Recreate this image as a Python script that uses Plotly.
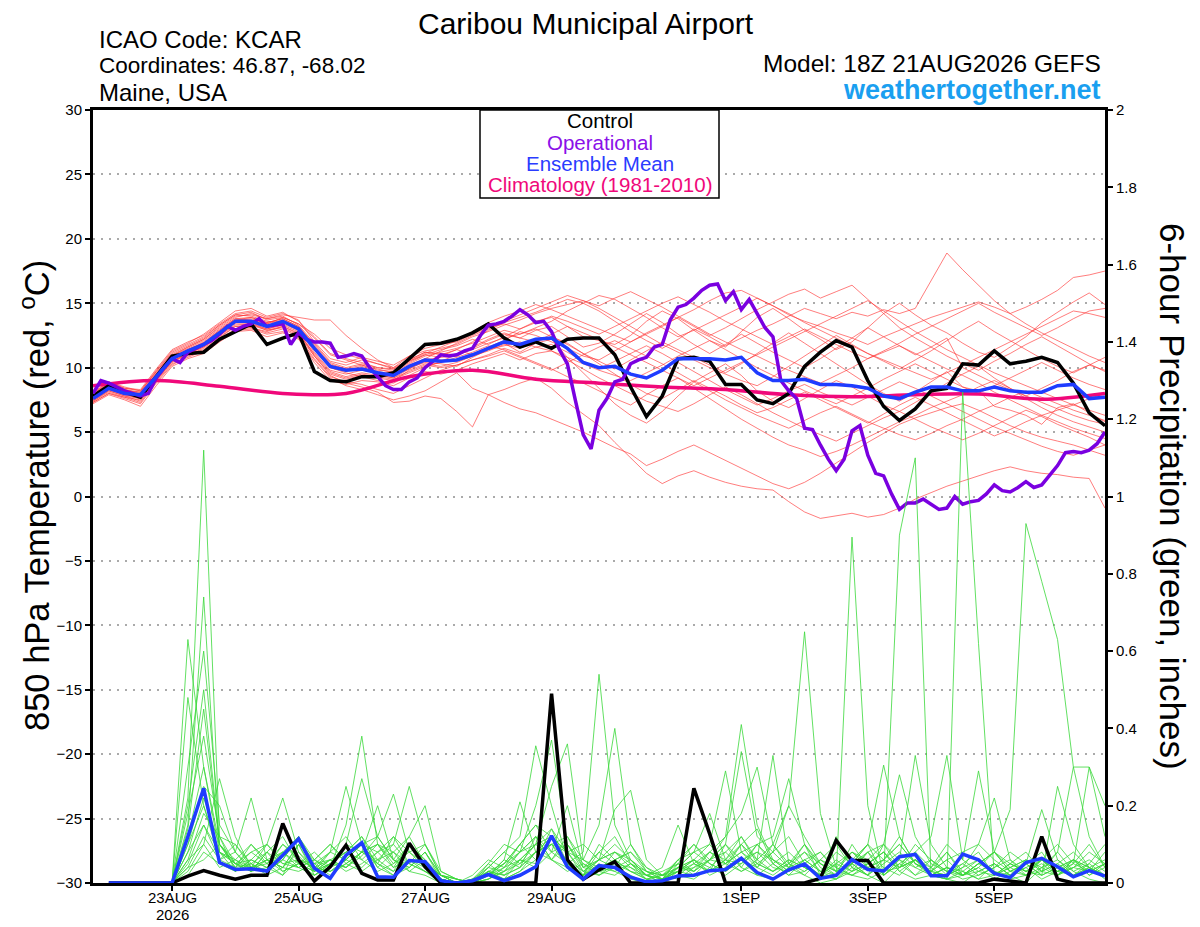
import pandas as pd
import plotly.graph_objects as go

# 6-hourly GEFS steps, 18Z 21AUG2026 + 16 days
times = pd.date_range("2026-08-21 18:00", periods=65, freq="6h")
precip_times = times[1:]
member_precip_times = times[5:]  # members drawn from 23AUG 00Z on
op_times = pd.date_range("2026-08-21 18:00", periods=129, freq="3h")
clim_times = pd.date_range("2026-08-21 18:00", periods=17, freq="24h")

control_temp = [7.8, 8.6, 8.1, 7.7, 9.3, 10.9, 11.1, 11.2, 12.2, 12.8, 13.4, 11.8, 12.3, 12.7, 9.7, 9.0,
                8.9, 9.3, 9.3, 9.6, 10.7, 11.8, 11.9, 12.2, 12.7, 13.4, 12.3, 11.6, 12.0, 11.5, 12.2, 12.3,
                12.3, 11.0, 8.5, 6.2, 7.8, 10.7, 10.8, 10.5, 8.7, 8.7, 7.5, 7.2, 8.0, 10.1, 11.2, 12.1,
                11.6, 9.0, 7.0, 5.9, 6.8, 8.2, 8.4, 10.3, 10.2, 11.3, 10.3, 10.5, 10.8, 10.4, 8.8, 6.5, 5.5]
mean_temp = [7.6, 8.4, 8.0, 7.9, 9.3, 10.7, 11.3, 11.8, 12.7, 13.6, 13.6, 13.2, 13.6, 13.0, 11.5, 10.1,
             9.8, 9.9, 9.6, 9.4, 10.1, 10.6, 10.5, 10.6, 11.0, 11.5, 12.0, 11.8, 12.2, 12.3, 11.5, 10.4,
             10.0, 10.1, 9.5, 9.2, 9.8, 10.7, 10.7, 10.7, 10.6, 10.8, 9.6, 9.0, 9.0, 9.1, 8.7, 8.7,
             8.6, 8.4, 7.8, 7.6, 8.1, 8.5, 8.5, 8.2, 8.2, 8.5, 8.2, 8.1, 8.1, 8.6, 8.7, 7.6, 7.7]
oper_temp = [8.0, 9.0, 8.8, 8.5, 8.2, 8.0, 7.8, 8.0, 9.2, 10.0, 10.7, 10.4, 11.2, 11.5, 11.8, 12.1,
             12.6, 13.2, 12.9, 13.2, 13.4, 13.8, 13.2, 13.3, 13.4, 11.8, 12.7, 12.2, 12.0, 12.0, 11.9, 10.8,
             10.9, 11.1, 10.9, 10.0, 9.3, 8.6, 8.3, 8.3, 8.9, 9.2, 10.0, 10.5, 11.0, 10.9, 11.0, 11.3,
             11.5, 12.5, 13.3, 13.4, 13.6, 14.0, 14.5, 14.1, 13.5, 13.6, 12.8, 11.4, 10.3, 7.5, 4.8, 3.7,
             6.7, 7.6, 8.9, 9.1, 10.3, 10.6, 10.8, 11.6, 11.8, 13.7, 14.7, 14.9, 15.4, 16.0, 16.4, 16.5,
             15.2, 15.9, 14.5, 15.3, 14.2, 13.1, 12.4, 9.0, 8.2, 7.6, 5.3, 5.2, 4.0, 2.9, 2.0, 2.9,
             5.1, 5.5, 3.2, 1.8, 1.6, 0.2, -1.0, -0.5, -0.5, -0.2, -0.6, -1.0, -0.9, 0.0, -0.6, -0.4,
             -0.3, 0.2, 0.9, 0.45, 0.35, 0.7, 1.15, 0.7, 0.9, 1.6, 2.4, 3.4, 3.5, 3.4, 3.6, 4.1, 5.0]
clim_temp = [8.6, 9.0, 8.55, 8.0, 8.0, 9.3, 9.8, 9.1, 8.8, 8.5, 8.3, 7.9, 7.75, 7.9, 7.95, 7.55, 8.0]

member_temps = [
    [7.9, 8.7, 8.3, 8.0, 9.6, 11.0, 11.6, 12.2, 13.1, 13.9, 14.2, 13.8, 14.0, 13.3, 11.9, 10.5, 10.2, 10.6, 10.3, 10.0, 10.9, 11.5, 11.8,
     12.0, 12.6, 13.1, 13.4, 13.0, 13.6, 13.9, 13.2, 12.4, 12.1, 11.8, 12.5, 13.6, 14.4, 13.8, 12.9, 12.1, 11.6, 12.8, 13.9, 14.6, 13.8,
     12.9, 12.2, 11.4, 12.0, 13.1, 14.2, 15.0, 14.1, 13.3, 12.7, 11.9, 11.2, 10.8, 11.6, 12.4, 13.5, 14.3, 15.1, 15.8, 14.9],
    [7.3, 8.0, 7.6, 7.2, 8.8, 10.2, 10.9, 11.3, 12.1, 12.9, 13.0, 12.6, 12.8, 12.2, 10.6, 9.2, 8.6, 8.3, 7.9, 7.5, 7.8, 8.2, 8.9,
     9.6, 8.4, 7.9, 8.3, 8.8, 9.2, 8.4, 7.3, 6.4, 5.5, 4.2, 3.0, 1.8, 1.0, 1.6, 2.0, 1.5, 1.1, 0.8, 0.6, 0.5, -0.4,
     -1.2, -1.7, -1.5, -1.3, -1.6, -1.4, -0.9, -0.2, 0.3, 0.8, 1.2, 1.6, 2.0, 2.3, 2.0, 1.8, 1.7, 1.5, 1.4, -0.9],
    [7.5, 8.2, 7.8, 7.4, 9.0, 10.5, 11.0, 11.5, 12.4, 13.2, 13.3, 12.9, 13.1, 12.5, 10.9, 9.4, 8.8, 8.5, 8.1, 7.3, 7.4, 7.8, 7.6,
     6.6, 5.4, 7.9, 7.3, 6.8, 6.5, 6.0, 5.5, 5.0, 4.4, 3.8, 3.3, 2.4, 2.9, 3.5, 4.0, 3.4, 2.8, 2.2, 1.6, 1.0, 0.6,
     1.1, 1.8, 2.6, 3.4, 4.2, 4.9, 5.6, 6.1, 6.5, 6.9, 7.2, 6.7, 6.1, 5.5, 5.0, 4.6, 4.3, 4.0, 3.6, 3.2],
    [8.0, 8.9, 8.5, 8.2, 9.8, 11.3, 11.9, 12.6, 13.5, 14.4, 14.6, 14.0, 14.3, 13.6, 12.4, 11.1, 10.7, 10.4, 10.0, 9.9, 10.6, 11.2, 11.0,
     11.4, 12.0, 12.9, 13.5, 13.9, 14.3, 14.8, 15.3, 15.0, 14.4, 13.6, 12.8, 12.1, 11.5, 12.2, 13.0, 12.4, 11.7, 12.3, 12.9, 13.4, 14.0,
     14.6, 14.2, 13.8, 14.3, 14.0, 14.5, 14.2, 14.6, 16.7, 18.9, 17.6, 16.4, 15.2, 14.2, 13.4, 12.7, 12.1, 11.5, 10.9, 10.4],
    [7.7, 8.5, 8.1, 7.8, 9.4, 10.8, 11.4, 11.9, 12.9, 13.7, 13.9, 13.5, 13.8, 13.2, 11.7, 10.3, 9.9, 10.2, 9.9, 9.6, 10.3, 10.9, 11.2,
     11.5, 11.9, 12.4, 12.9, 12.6, 13.1, 13.6, 14.4, 15.0, 15.6, 15.3, 14.6, 13.9, 13.1, 12.4, 12.9, 13.5, 14.1, 14.7, 15.4, 14.8, 14.1,
     13.6, 13.2, 12.7, 12.3, 11.8, 12.4, 12.9, 13.4, 13.9, 14.3, 14.7, 15.1, 14.7, 14.2, 14.7, 15.3, 16.0, 17.0, 17.2, 17.5],
    [7.6, 8.3, 7.9, 7.7, 9.2, 10.6, 11.2, 11.7, 12.6, 13.5, 13.5, 13.0, 13.4, 12.9, 11.2, 9.8, 9.5, 9.8, 9.6, 9.3, 10.0, 10.4, 10.3,
     10.1, 10.8, 11.4, 11.9, 11.2, 11.9, 12.2, 10.8, 9.6, 8.4, 7.2, 6.3, 5.7, 6.6, 7.8, 8.9, 9.6, 10.3, 9.4, 8.2, 7.4, 6.9,
     7.6, 8.3, 9.0, 8.5, 7.8, 7.1, 6.6, 7.3, 8.0, 8.8, 9.5, 10.1, 9.2, 8.4, 7.6, 6.9, 6.3, 5.8, 5.4, 5.0],
    [7.8, 8.6, 8.2, 8.1, 9.5, 10.9, 11.5, 12.1, 13.0, 13.8, 13.7, 13.4, 13.9, 13.4, 12.3, 11.0, 10.6, 10.2, 9.8, 9.7, 10.4, 11.0, 10.8,
     10.9, 11.5, 12.1, 12.6, 12.3, 12.9, 13.2, 12.4, 11.6, 11.9, 12.6, 13.4, 14.2, 13.5, 12.6, 11.8, 11.1, 11.8, 12.6, 11.9, 11.2, 10.6,
     10.0, 10.7, 11.5, 12.3, 13.1, 12.4, 11.7, 11.0, 11.6, 12.3, 10.0, 9.4, 8.8, 8.3, 7.8, 8.4, 9.0, 9.7, 10.2, 9.8],
    [7.2, 7.9, 7.5, 7.0, 8.6, 10.1, 10.7, 11.1, 12.0, 12.8, 12.9, 12.4, 12.7, 12.3, 10.4, 9.0, 8.7, 9.0, 8.9, 8.6, 9.2, 9.7, 9.5,
     9.8, 10.3, 10.7, 11.1, 10.6, 11.1, 11.3, 10.6, 9.9, 9.2, 8.6, 8.0, 7.4, 7.0, 6.6, 7.2, 7.9, 8.5, 7.9, 7.2, 6.5, 5.9,
     5.3, 4.8, 4.3, 4.9, 5.5, 6.1, 6.6, 6.0, 5.4, 4.9, 4.4, 4.9, 5.5, 6.1, 6.7, 6.2, 5.6, 5.1, 4.6, 4.0],
    [7.9, 8.8, 8.4, 8.2, 9.7, 11.1, 11.7, 12.3, 13.3, 14.1, 14.0, 13.6, 13.5, 13.0, 11.4, 10.0, 9.7, 10.0, 9.6, 9.4, 9.9, 10.5, 10.9,
     11.4, 11.0, 11.6, 12.1, 12.8, 12.5, 12.0, 11.5, 10.9, 10.6, 11.3, 12.0, 12.7, 13.3, 13.9, 13.2, 12.5, 13.1, 13.8, 14.5, 15.1, 15.7,
     16.1, 15.4, 15.9, 16.4, 15.3, 14.2, 13.1, 12.3, 11.6, 10.9, 10.3, 9.8, 10.5, 11.1, 11.8, 12.4, 11.7, 11.0, 10.3, 9.7],
    [7.4, 8.1, 7.7, 7.5, 9.0, 10.4, 11.0, 11.4, 12.3, 13.2, 13.1, 12.8, 13.2, 12.7, 10.9, 9.5, 9.1, 9.4, 9.2, 9.0, 9.8, 10.3, 10.1,
     10.4, 10.9, 11.3, 11.8, 11.5, 12.0, 12.4, 11.9, 11.1, 10.3, 9.5, 8.7, 8.0, 7.6, 8.3, 9.0, 8.4, 7.8, 7.1, 6.5, 6.9, 7.5,
     8.1, 7.5, 6.9, 6.3, 5.7, 6.4, 7.1, 7.7, 7.1, 6.5, 5.9, 5.3, 4.7, 5.2, 5.8, 6.3, 5.8, 5.3, 4.9, 4.5],
    [8.1, 8.9, 8.4, 8.3, 9.9, 11.4, 12.0, 12.5, 13.4, 14.2, 14.4, 13.9, 14.2, 13.7, 12.0, 10.7, 10.4, 10.8, 10.5, 10.2, 10.9, 11.3, 11.5,
     11.8, 12.4, 12.8, 13.3, 13.7, 14.2, 14.6, 14.9, 15.2, 14.6, 13.9, 13.2, 12.5, 11.8, 11.2, 10.6, 10.0, 9.5, 9.0, 8.6, 9.3, 10.1,
     10.9, 11.7, 12.5, 11.8, 11.1, 10.5, 9.9, 10.6, 11.3, 12.1, 12.9, 13.6, 12.8, 12.1, 11.4, 10.7, 10.1, 9.6, 10.2, 10.8],
    [7.5, 8.3, 7.9, 7.6, 9.1, 10.5, 11.1, 11.6, 12.5, 13.4, 13.4, 13.0, 13.3, 12.8, 11.0, 9.6, 9.2, 9.5, 9.3, 9.1, 9.6, 10.1, 10.4,
     10.8, 11.2, 11.7, 11.4, 10.9, 10.4, 9.9, 9.3, 8.8, 8.2, 7.6, 7.1, 7.9, 8.6, 9.2, 8.4, 7.6, 6.8, 6.0, 5.3, 4.6, 4.0,
     3.6, 3.1, 3.5, 4.0, 4.6, 5.2, 5.8, 6.3, 6.9, 7.4, 7.9, 8.5, 9.0, 8.4, 7.8, 7.3, 6.8, 6.3, 5.9, 5.6],
    [7.8, 8.5, 8.0, 7.9, 9.4, 10.8, 11.4, 11.9, 12.8, 13.7, 13.8, 13.4, 13.7, 13.1, 11.6, 10.2, 9.9, 9.9, 9.5, 9.2, 9.9, 10.7, 11.3,
     11.9, 12.5, 13.0, 13.6, 14.1, 14.6, 15.1, 15.6, 15.2, 14.8, 15.4, 15.9, 15.3, 14.7, 14.0, 13.3, 12.6, 12.0, 11.4, 10.9, 10.3, 9.8,
     9.3, 8.8, 9.4, 10.0, 10.7, 11.3, 11.9, 12.6, 13.2, 13.8, 14.4, 15.0, 14.3, 13.7, 13.1, 12.5, 13.1, 13.8, 14.4, 14.6],
    [7.6, 8.4, 8.0, 7.8, 9.3, 10.7, 11.3, 11.8, 12.7, 13.6, 13.6, 13.3, 13.6, 13.1, 11.6, 10.1, 9.8, 10.1, 9.7, 9.5, 10.2, 10.7, 10.6,
     10.5, 10.9, 11.4, 11.7, 12.0, 11.6, 11.3, 10.8, 10.3, 9.8, 9.4, 9.0, 9.6, 10.2, 10.9, 11.5, 12.1, 11.4, 10.7, 10.0, 9.4, 8.8,
     8.2, 7.7, 7.2, 7.8, 8.4, 9.1, 9.7, 10.3, 9.7, 9.1, 8.5, 8.0, 8.6, 9.2, 9.8, 10.4, 9.8, 9.2, 8.7, 8.3],
    [8.0, 8.8, 8.3, 8.1, 9.7, 11.2, 11.8, 12.4, 13.3, 14.1, 14.3, 13.7, 13.9, 13.4, 12.6, 11.5, 11.0, 10.7, 10.3, 9.9, 10.5, 11.1, 11.6,
     12.1, 12.8, 13.5, 14.0, 14.4, 14.9, 14.5, 14.0, 13.5, 13.0, 12.5, 12.0, 12.6, 13.2, 13.9, 14.5, 15.2, 15.8, 16.0, 15.4, 14.8, 14.2,
     13.5, 12.9, 12.3, 11.7, 11.1, 10.6, 10.1, 9.6, 9.1, 9.6, 10.2, 10.8, 11.4, 12.0, 12.6, 13.2, 13.8, 14.4, 14.2, 13.9],
    [7.9, 8.6, 8.2, 7.9, 9.5, 10.9, 11.6, 12.2, 13.2, 14.0, 14.1, 13.8, 14.1, 13.9, 13.7, 13.7, 12.5, 11.5, 10.6, 10.0, 10.6, 11.2, 11.1,
     11.0, 11.6, 12.2, 12.7, 12.3, 12.0, 12.6, 13.2, 12.7, 12.2, 11.6, 11.0, 10.4, 9.8, 9.2, 8.6, 9.2, 9.8, 10.4, 11.0, 11.6, 12.2,
     12.8, 13.4, 14.0, 14.6, 15.2, 14.4, 13.6, 12.8, 12.1, 11.4, 10.8, 10.2, 9.6, 9.1, 8.6, 8.1, 7.6, 7.1, 6.7, 6.3],
    [7.3, 8.0, 7.7, 7.3, 8.9, 10.3, 10.8, 11.3, 12.2, 13.0, 13.1, 12.7, 13.0, 12.4, 10.7, 9.3, 8.9, 8.7, 8.3, 8.0, 8.6, 9.2, 9.8,
     10.2, 10.6, 10.9, 11.3, 10.8, 10.3, 9.8, 10.4, 11.0, 11.6, 12.1, 11.5, 10.9, 10.3, 9.6, 8.9, 8.2, 7.5, 6.9, 6.3, 5.8, 5.3,
     5.9, 6.5, 7.0, 6.4, 5.8, 5.3, 4.8, 4.4, 4.9, 5.5, 6.0, 6.6, 7.1, 7.7, 8.2, 7.7, 7.2, 6.7, 6.3, 5.9],
    [7.7, 8.5, 8.1, 7.9, 9.4, 10.8, 11.4, 12.0, 12.9, 13.8, 13.9, 13.5, 13.8, 13.2, 11.8, 10.4, 10.0, 10.3, 10.0, 9.8, 10.5, 11.0, 11.4,
     11.7, 12.2, 11.8, 12.4, 13.0, 13.5, 14.0, 13.6, 13.1, 12.6, 13.2, 13.8, 14.4, 15.0, 15.5, 14.9, 14.3, 13.6, 13.0, 12.4, 11.8, 12.4,
     13.0, 12.4, 11.8, 11.2, 10.7, 11.2, 11.7, 11.1, 10.5, 9.9, 9.4, 8.8, 8.1, 7.5, 6.9, 6.3, 6.7, 7.1, 7.6, 8.0],
    [7.4, 8.2, 7.8, 7.6, 9.1, 10.5, 11.1, 11.6, 12.5, 13.3, 13.4, 12.9, 13.2, 12.6, 11.1, 9.7, 9.3, 9.6, 9.4, 9.2, 9.7, 10.2, 10.0,
     10.2, 10.6, 11.0, 11.5, 11.1, 11.6, 11.8, 11.2, 10.5, 9.9, 10.5, 11.1, 11.7, 11.1, 10.4, 9.7, 9.0, 8.3, 7.7, 7.1, 7.6, 8.2,
     8.7, 8.1, 7.6, 7.1, 7.7, 8.3, 8.9, 8.4, 7.8, 7.2, 6.6, 6.0, 5.4, 4.9, 4.4, 3.9, 3.5, 3.2, 3.6, 4.0],
    [7.7, 8.4, 8.0, 7.7, 9.2, 10.6, 11.2, 11.8, 12.7, 13.5, 13.6, 13.2, 13.6, 13.0, 11.4, 10.0, 9.6, 9.3, 9.0, 8.8, 9.4, 10.0, 10.5,
     11.0, 11.4, 11.9, 12.3, 12.6, 13.0, 12.4, 11.8, 11.1, 10.5, 9.9, 10.6, 11.3, 12.0, 11.4, 10.8, 10.2, 9.6, 10.3, 11.1, 11.9, 12.7,
     11.9, 11.1, 10.3, 9.5, 8.7, 8.0, 7.4, 8.1, 8.9, 9.7, 8.5, 8.2, 7.0, 6.7, 6.3, 5.6, 6.9, 7.2, 6.5, 5.8],
]

# 6-hour precip (inches), control/mean from 22AUG 00Z on
control_precip = [0, 0, 0, 0,
                  0, 0.018, 0.032, 0.02, 0.01, 0.02, 0.02, 0.154, 0.06, 0.005,
                  0.042, 0.098, 0.025, 0.008, 0.008, 0.103, 0.042, 0, 0, 0,
                  0, 0, 0, 0, 0.49, 0.06, 0.01, 0.034, 0.055, 0,
                  0, 0, 0, 0.245, 0.127, 0, 0, 0, 0, 0,
                  0, 0.012, 0.11, 0.058, 0.058, 0, 0, 0, 0, 0,
                  0, 0, 0.01, 0.005, 0, 0.12, 0.01, 0, 0, 0]
mean_precip = [0, 0, 0, 0,
               0, 0.12, 0.245, 0.053, 0.035, 0.037, 0.031, 0.072, 0.114, 0.038,
               0.012, 0.072, 0.104, 0.016, 0.015, 0.058, 0.055, 0.006, 0.0, 0.006,
               0.022, 0.006, 0.02, 0.042, 0.122, 0.042, 0.01, 0.045, 0.04, 0.015,
               0.003, 0.006, 0.018, 0.02, 0.032, 0.035, 0.064, 0.027, 0.01, 0.034,
               0.049, 0.012, 0.02, 0.061, 0.035, 0.031, 0.068, 0.074, 0.019, 0.019,
               0.075, 0.06, 0.025, 0.014, 0.053, 0.064, 0.042, 0.016, 0.032, 0.018]

member_precips = [
    [0, 0.22, 1.12, 0.12, 0.05, 0.03, 0.06, 0.04, 0.1, 0.02, 0.05, 0.08, 0.12, 0.04, 0.02, 0.06, 0.03, 0, 0, 0,
     0.03, 0.01, 0.06, 0.1, 0.14, 0.08, 0.02, 0.05, 0.03, 0.01, 0, 0, 0.02, 0.01, 0.04, 0.08, 0.12, 0.06, 0.33, 0.05,
     0.02, 0, 0.01, 0.05, 0.02, 0, 0.04, 0.06, 0.02, 0.01, 0, 0.03, 0.05, 0.02, 0, 0.04, 0.08, 0.03, 0.01, 0],
    [0, 0.15, 0.74, 0.08, 0.03, 0.06, 0.04, 0.1, 0.07, 0.03, 0.08, 0.12, 0.06, 0.03, 0.05, 0.1, 0.04, 0.01, 0, 0.01,
     0.04, 0.08, 0.12, 0.355, 0.2, 0.06, 0.02, 0.08, 0.12, 0.05, 0.01, 0, 0.03, 0.06, 0.02, 0.04, 0.1, 0.14, 0.05, 0.02,
     0.06, 0.03, 0.01, 0.04, 0.08, 0.02, 0.05, 0.02, 0.06, 0.03, 0.01, 0.02, 0.04, 0.08, 0.05, 0.19, 0.06, 0.02, 0.04, 0.01],
    [0, 0.63, 0.3, 0.1, 0.04, 0.08, 0.05, 0.02, 0.06, 0.04, 0.03, 0.06, 0.1, 0.05, 0.02, 0.04, 0.08, 0.02, 0, 0,
     0.02, 0.04, 0.1, 0.15, 0.12, 0.05, 0.01, 0.03, 0.08, 0.06, 0.02, 0, 0.05, 0.02, 0.03, 0.06, 0.05, 0.1, 0.12, 0.27,
     0.1, 0.02, 0.01, 0.03, 0.05, 0.08, 0.03, 0.01, 0.02, 0.04, 0.02, 0.05, 0.03, 0.01, 0.02, 0.06, 0.03, 0.05, 0.1, 0.04],
    [0, 0.3, 0.6, 0.15, 0.08, 0.04, 0.03, 0.06, 0.12, 0.05, 0.02, 0.05, 0.08, 0.1, 0.04, 0.06, 0.05, 0.02, 0.01, 0,
     0.05, 0.1, 0.08, 0.2, 0.37, 0.1, 0.03, 0.06, 0.08, 0.04, 0.01, 0.02, 0.04, 0.08, 0.05, 0.03, 0.06, 0.02, 0.01, 0.04,
     0.08, 0.05, 0.02, 0.1, 0.04, 0.06, 0.12, 0.05, 0.02, 0.01, 0.03, 0.01, 0.02, 0.05, 0.03, 0.02, 0.25, 0.1, 0.04, 0.02],
    [0, 0.48, 0.2, 0.06, 0.1, 0.05, 0.02, 0.04, 0.08, 0.03, 0.05, 0.04, 0.07, 0.12, 0.06, 0.03, 0.02, 0, 0, 0.02,
     0.06, 0.04, 0.08, 0.12, 0.06, 0.03, 0.05, 0.02, 0.04, 0.02, 0, 0.01, 0.03, 0.02, 0.06, 0.05, 0.08, 0.04, 0.1, 0.2,
     0.65, 0.18, 0.04, 0.02, 0.01, 0.03, 0.06, 0.02, 0.04, 0.08, 0.03, 0.01, 0.05, 0.02, 0.04, 0.01, 0.03, 0.06, 0.02, 0.05],
    [0, 0.2, 0.5, 0.1, 0.05, 0.08, 0.1, 0.05, 0.04, 0.06, 0.1, 0.06, 0.04, 0.08, 0.1, 0.05, 0.03, 0.01, 0, 0,
     0.01, 0.03, 0.06, 0.1, 0.25, 0.36, 0.06, 0.03, 0.02, 0.05, 0.02, 0.01, 0.06, 0.03, 0.08, 0.06, 0.12, 0.05, 0.03, 0.06,
     0.04, 0.02, 0.05, 0.03, 0.08, 0.04, 0.02, 0.06, 0.03, 0.02, 0.05, 0.08, 0.02, 0.04, 0.06, 0.03, 0.08, 0.3, 0.12, 0.04],
    [0, 0.18, 0.38, 0.12, 0.03, 0.05, 0.08, 0.03, 0.05, 0.02, 0.04, 0.1, 0.08, 0.05, 0.12, 0.08, 0.05, 0.02, 0, 0,
     0.03, 0.02, 0.04, 0.08, 0.12, 0.05, 0.02, 0.1, 0.06, 0.03, 0.01, 0, 0.02, 0.05, 0.03, 0.1, 0.06, 0.04, 0.08, 0.12,
     0.05, 0.02, 0.02, 0.895, 0.2, 0.02, 0.05, 0.08, 0.04, 0.01, 0.02, 0.04, 0.01, 0.03, 0.05, 0.08, 0.02, 0.04, 0.06, 0.03],
    [0, 0.12, 0.3, 0.08, 0.06, 0.04, 0.1, 0.06, 0.12, 0.04, 0.06, 0.08, 0.12, 0.06, 0.03, 0.1, 0.06, 0.01, 0, 0.01,
     0.02, 0.05, 0.1, 0.06, 0.14, 0.05, 0.08, 0.54, 0.15, 0.06, 0.02, 0, 0.04, 0.08, 0.1, 0.05, 0.03, 0.06, 0.1, 0.04,
     0.06, 0.03, 0.08, 0.05, 0.02, 0.1, 0.04, 0.06, 0.03, 0.08, 0.02, 0.04, 0.08, 0.05, 0.03, 0.06, 0.1, 0.05, 0.3, 0.12],
    [0, 0.1, 0.25, 0.2, 0.08, 0.03, 0.04, 0.02, 0.1, 0.06, 0.04, 0.15, 0.38, 0.1, 0.05, 0.08, 0.1, 0.02, 0.01, 0,
     0.04, 0.03, 0.08, 0.1, 0.12, 0.08, 0.03, 0.06, 0.04, 0.1, 0.04, 0.01, 0.03, 0.04, 0.08, 0.05, 0.1, 0.06, 0.03, 0.05,
     0.1, 0.04, 0.02, 0.06, 0.1, 0.305, 0.12, 0.05, 0.03, 0.02, 0.04, 0.06, 0.03, 0.02, 0.06, 0.04, 0.02, 0.05, 0.03, 0.08],
    [0, 0.08, 0.22, 0.1, 0.04, 0.1, 0.06, 0.08, 0.05, 0.03, 0.05, 0.1, 0.27, 0.12, 0.06, 0.04, 0.08, 0.01, 0, 0,
     0.02, 0.06, 0.04, 0.08, 0.1, 0.12, 0.06, 0.15, 0.40, 0.1, 0.03, 0.02, 0.05, 0.03, 0.06, 0.08, 0.04, 0.1, 0.05, 0.02,
     0.03, 0.06, 0.1, 0.04, 0.02, 0.05, 0.08, 0.04, 0.06, 0.03, 0.05, 0.02, 0.04, 0.06, 0.02, 0.03, 0.05, 0.08, 0.04, 0.02],
    [0, 0.06, 0.18, 0.12, 0.1, 0.04, 0.05, 0.1, 0.06, 0.05, 0.08, 0.25, 0.1, 0.05, 0.03, 0.06, 0.04, 0.02, 0, 0.01,
     0.05, 0.02, 0.04, 0.12, 0.08, 0.2, 0.04, 0.06, 0.08, 0.05, 0.02, 0.01, 0.04, 0.06, 0.03, 0.05, 0.08, 0.1, 0.06, 0.04,
     0.1, 0.05, 0.03, 0.08, 0.06, 0.1, 0.28, 0.12, 0.05, 0.03, 0.02, 0.05, 0.08, 0.04, 0.02, 0.06, 0.03, 0.04, 0.08, 0.05],
    [0, 0.05, 0.15, 0.08, 0.05, 0.06, 0.1, 0.22, 0.08, 0.04, 0.03, 0.06, 0.1, 0.08, 0.12, 0.05, 0.03, 0.01, 0, 0,
     0.01, 0.04, 0.06, 0.05, 0.12, 0.08, 0.1, 0.06, 0.19, 0.24, 0.06, 0.02, 0.01, 0.04, 0.06, 0.1, 0.04, 0.02, 0.05, 0.08,
     0.04, 0.02, 0.06, 0.03, 0.05, 0.08, 0.04, 0.1, 0.06, 0.02, 0.04, 0.1, 0.06, 0.03, 0.05, 0.02, 0.04, 0.06, 0.02, 0.04],
    [0, 0.04, 0.12, 0.06, 0.08, 0.22, 0.06, 0.04, 0.1, 0.03, 0.06, 0.04, 0.08, 0.1, 0.06, 0.12, 0.05, 0.02, 0.01, 0,
     0.03, 0.01, 0.03, 0.08, 0.06, 0.1, 0.04, 0.03, 0.06, 0.08, 0.03, 0.01, 0.06, 0.1, 0.05, 0.03, 0.06, 0.08, 0.04, 0.03,
     0.06, 0.08, 0.03, 0.05, 0.1, 0.02, 0.9, 1.10, 0.02, 0.04, 0.03, 0.06, 0.02, 0.05, 0.08, 0.03, 0.02, 0.06, 0.04, 0.02],
    [0, 0.03, 0.1, 0.27, 0.12, 0.04, 0.06, 0.03, 0.05, 0.08, 0.04, 0.06, 0.1, 0.04, 0.08, 0.03, 0.06, 0.01, 0, 0,
     0.02, 0.06, 0.21, 0.08, 0.1, 0.04, 0.02, 0.06, 0.1, 0.06, 0.02, 0.01, 0.03, 0.06, 0.04, 0.02, 0.05, 0.08, 0.06, 0.03,
     0.05, 0.02, 0.12, 0.04, 0.02, 0.06, 0.1, 0.05, 0.03, 0.06, 0.02, 0.03, 0.05, 0.02, 0.04, 0.06, 0.03, 0.02, 0.05, 0.1],
    [0, 0.02, 0.08, 0.05, 0.03, 0.06, 0.04, 0.08, 0.12, 0.06, 0.03, 0.05, 0.08, 0.06, 0.1, 0.25, 0.1, 0.02, 0, 0,
     0.01, 0.03, 0.05, 0.08, 0.1, 0.06, 0.03, 0.02, 0.05, 0.04, 0.02, 0.04, 0.15, 0.05, 0.03, 0.06, 0.1, 0.04, 0.02, 0.05,
     0.08, 0.03, 0.02, 0.05, 0.08, 0.1, 0.06, 0.33, 0.1, 0.04, 0.02, 0.05, 0.08, 0.03, 0.02, 0.04, 0.06, 0.03, 0.05, 0.02],
    [0, 0.04, 0.06, 0.1, 0.05, 0.03, 0.08, 0.05, 0.06, 0.04, 0.08, 0.06, 0.1, 0.12, 0.23, 0.08, 0.04, 0.01, 0, 0,
     0.02, 0.05, 0.08, 0.12, 0.06, 0.04, 0.02, 0.04, 0.06, 0.03, 0.01, 0.02, 0.06, 0.08, 0.18, 0.06, 0.03, 0.05, 0.08, 0.04,
     0.02, 0.06, 0.03, 0.05, 0.1, 0.06, 0.04, 0.08, 0.12, 0.33, 0.06, 0.03, 0.02, 0.05, 0.03, 0.06, 0.02, 0.04, 0.03, 0.05],
    [0, 0.08, 0.15, 0.06, 0.04, 0.05, 0.03, 0.06, 0.04, 0.02, 0.05, 0.08, 0.06, 0.1, 0.08, 0.12, 0.2, 0.03, 0.01, 0,
     0.03, 0.02, 0.06, 0.04, 0.08, 0.1, 0.05, 0.03, 0.04, 0.06, 0.03, 0.01, 0.04, 0.06, 0.1, 0.29, 0.08, 0.05, 0.03, 0.06,
     0.04, 0.02, 0.05, 0.08, 0.04, 0.02, 0.06, 0.04, 0.02, 0.01, 1.27, 0.62, 0.02, 0.04, 0.06, 0.03, 0.05, 0.02, 0.04, 0.06],
    [0, 0.1, 0.2, 0.08, 0.05, 0.04, 0.06, 0.04, 0.03, 0.05, 0.06, 0.04, 0.08, 0.2, 0.06, 0.04, 0.08, 0.02, 0, 0,
     0.04, 0.08, 0.05, 0.1, 0.06, 0.12, 0.04, 0.08, 0.05, 0.03, 0.02, 0.03, 0.05, 0.1, 0.06, 0.12, 0.41, 0.15, 0.06, 0.03,
     0.05, 0.08, 0.04, 0.02, 0.05, 0.08, 0.03, 0.06, 0.04, 0.1, 0.06, 0.29, 0.08, 0.03, 0.05, 0.02, 0.04, 0.06, 0.03, 0.05],
    [0, 0.06, 0.1, 0.04, 0.06, 0.1, 0.05, 0.08, 0.04, 0.06, 0.1, 0.05, 0.03, 0.06, 0.08, 0.05, 0.1, 0.03, 0.01, 0,
     0.02, 0.01, 0.03, 0.06, 0.1, 0.08, 0.06, 0.04, 0.03, 0.05, 0.03, 0.02, 0.04, 0.03, 0.06, 0.1, 0.34, 0.12, 0.08, 0.2,
     0.12, 0.05, 0.03, 0.02, 0.04, 0.06, 0.1, 0.05, 0.03, 0.06, 0.08, 0.1, 0.22, 0.06, 0.03, 0.05, 0.02, 0.06, 0.04, 0.02],
    [0, 0.14, 0.45, 0.1, 0.06, 0.03, 0.08, 0.12, 0.05, 0.03, 0.06, 0.03, 0.05, 0.08, 0.04, 0.1, 0.06, 0.02, 0, 0.01,
     0.03, 0.05, 0.1, 0.15, 0.08, 0.05, 0.02, 0.03, 0.06, 0.08, 0.04, 0.02, 0.03, 0.05, 0.08, 0.12, 0.18, 0.30, 0.1, 0.05,
     0.03, 0.06, 0.04, 0.08, 0.05, 0.03, 0.04, 0.06, 0.02, 0.04, 0.02, 0.05, 0.08, 0.19, 0.93, 0.78, 0.63, 0.30, 0.30, 0.2],
]

date_ticks = ["2026-08-23", "2026-08-25", "2026-08-27", "2026-08-29", "2026-09-01", "2026-09-03", "2026-09-05"]
date_labels = ["23AUG", "25AUG", "27AUG", "29AUG", "1SEP", "3SEP", "5SEP"]
year_label = "2026"
temp_ticks = list(range(-30, 35, 5))
precip_ticks = [0, 0.2, 0.4, 0.6, 0.8, 1.0, 1.2, 1.4, 1.6, 1.8, 2.0]
precip_labels = ["0", "0.2", "0.4", "0.6", "0.8", "1", "1.2", "1.4", "1.6", "1.8", "2"]

FONT = "Liberation Sans"
OFF = 8  # the page body adds an 8px margin around the figure
L, R, T, B = 93, 1105, 110, 883  # plot frame in the photographed page


def px(x):
    return (x - L) / (R - L)


def py(y):
    return (B - y) / (B - T)


fig = go.Figure()
for m in member_temps:
    fig.add_trace(go.Scatter(x=times, y=m, mode="lines", line=dict(color="rgba(255,50,50,0.8)", width=0.8)))
for m in member_precips:
    fig.add_trace(go.Scatter(x=member_precip_times, y=m, mode="lines", yaxis="y2",
                             line=dict(color="#3ad83a", width=0.8)))
fig.add_trace(go.Scatter(x=clim_times, y=clim_temp, mode="lines", line=dict(color="#f0087a", width=3.5, shape="spline")))
fig.add_trace(go.Scatter(x=times, y=control_temp, mode="lines", line=dict(color="black", width=3.5)))
fig.add_trace(go.Scatter(x=op_times, y=oper_temp, mode="lines", line=dict(color="#7a00e0", width=3.5)))
fig.add_trace(go.Scatter(x=times, y=mean_temp, mode="lines", line=dict(color="#1f3cff", width=3.5)))
fig.add_trace(go.Scatter(x=precip_times, y=control_precip, mode="lines", yaxis="y2", line=dict(color="black", width=3.5)))
fig.add_trace(go.Scatter(x=precip_times, y=mean_precip, mode="lines", yaxis="y2", line=dict(color="#1f3cff", width=3.5)))

ann = []
ann.append(dict(x=px(586), y=py(23), text="Caribou Municipal Airport", xanchor="center", font=dict(size=30)))
for txt, yy, fs in [("ICAO Code: KCAR", 40, 24), ("Coordinates: 46.87, -68.02", 66, 22.5), ("Maine, USA", 93, 24)]:
    ann.append(dict(x=px(97), y=py(yy), text=txt, xanchor="left", font=dict(size=fs)))
ann.append(dict(x=px(1103), y=py(63), text="Model: 18Z 21AUG2026 GEFS", xanchor="right", font=dict(size=24.5)))
ann.append(dict(x=px(1103), y=py(90), text="<b>weathertogether.net</b>", xanchor="right",
                font=dict(size=27, color="#1a9ff0")))
for txt, yy, col in [("Control", 121, "black"), ("Operational", 142, "#8a10e8"),
                     ("Ensemble Mean", 163, "#2a3cff"), ("Climatology (1981-2010)", 185, "#f0087a")]:
    ann.append(dict(x=px(600), y=py(yy), text=txt, xanchor="center", font=dict(size=20.5, color=col)))
ann.append(dict(x=px(34), y=py(496), text="850 hPa Temperature (red, <sup>o</sup>C)", textangle=-90,
                xanchor="center", font=dict(size=34.5)))
ann.append(dict(x=px(1173), y=py(496), text="6-hour Precipitation (green, inches)", textangle=90,
                xanchor="center", font=dict(size=35)))
for a in ann:
    a.update(xref="paper", yref="paper")
# date labels under the axis
for d, lab in zip(date_ticks, date_labels):
    ann.append(dict(x=d, xref="x", y=py(897), yref="paper", text=lab, xanchor="center", font=dict(size=15)))
ann.append(dict(x=date_ticks[0], xref="x", y=py(914), yref="paper", text=year_label, xanchor="center",
                font=dict(size=15)))
for a in ann:
    a.update(showarrow=False, yanchor="middle")
    a["font"].setdefault("color", "black")

axis_common = dict(ticks="outside", tickcolor="black", showline=True, linewidth=3, linecolor="black",
                   zeroline=False, automargin=False, tickfont=dict(size=15, color="black"))

fig.update_layout(
    width=1200 - OFF, height=927 - OFF,
    margin=dict(l=L - OFF, r=1200 - R, t=T - OFF, b=927 - B, pad=0),
    paper_bgcolor="white", plot_bgcolor="white",
    showlegend=False,
    font=dict(family=FONT, color="black"),
    annotations=ann,
    shapes=[dict(type="rect", xref="paper", yref="paper", x0=px(480), x1=px(719), y0=py(198), y1=py(110),
                 line=dict(color="black", width=1.5), fillcolor="white", layer="above")],
    xaxis=dict(type="date", range=[times[0], times[-1]], tickvals=date_ticks, showticklabels=False,
               ticklen=5, tickwidth=1.5, showgrid=False, mirror=True, **axis_common),
    yaxis=dict(range=[-30, 30], tickvals=temp_ticks, ticklen=5, tickwidth=1.5,
               showgrid=True, gridcolor="#aaaaaa", griddash="2px,6px", gridwidth=1.6, **axis_common),
    yaxis2=dict(range=[0, 2], overlaying="y", side="right", tickvals=precip_ticks, ticktext=precip_labels,
                ticklen=5, tickwidth=1.5, showgrid=False, **axis_common),
    hovermode=False,
)

fig.write_html("out.html")
